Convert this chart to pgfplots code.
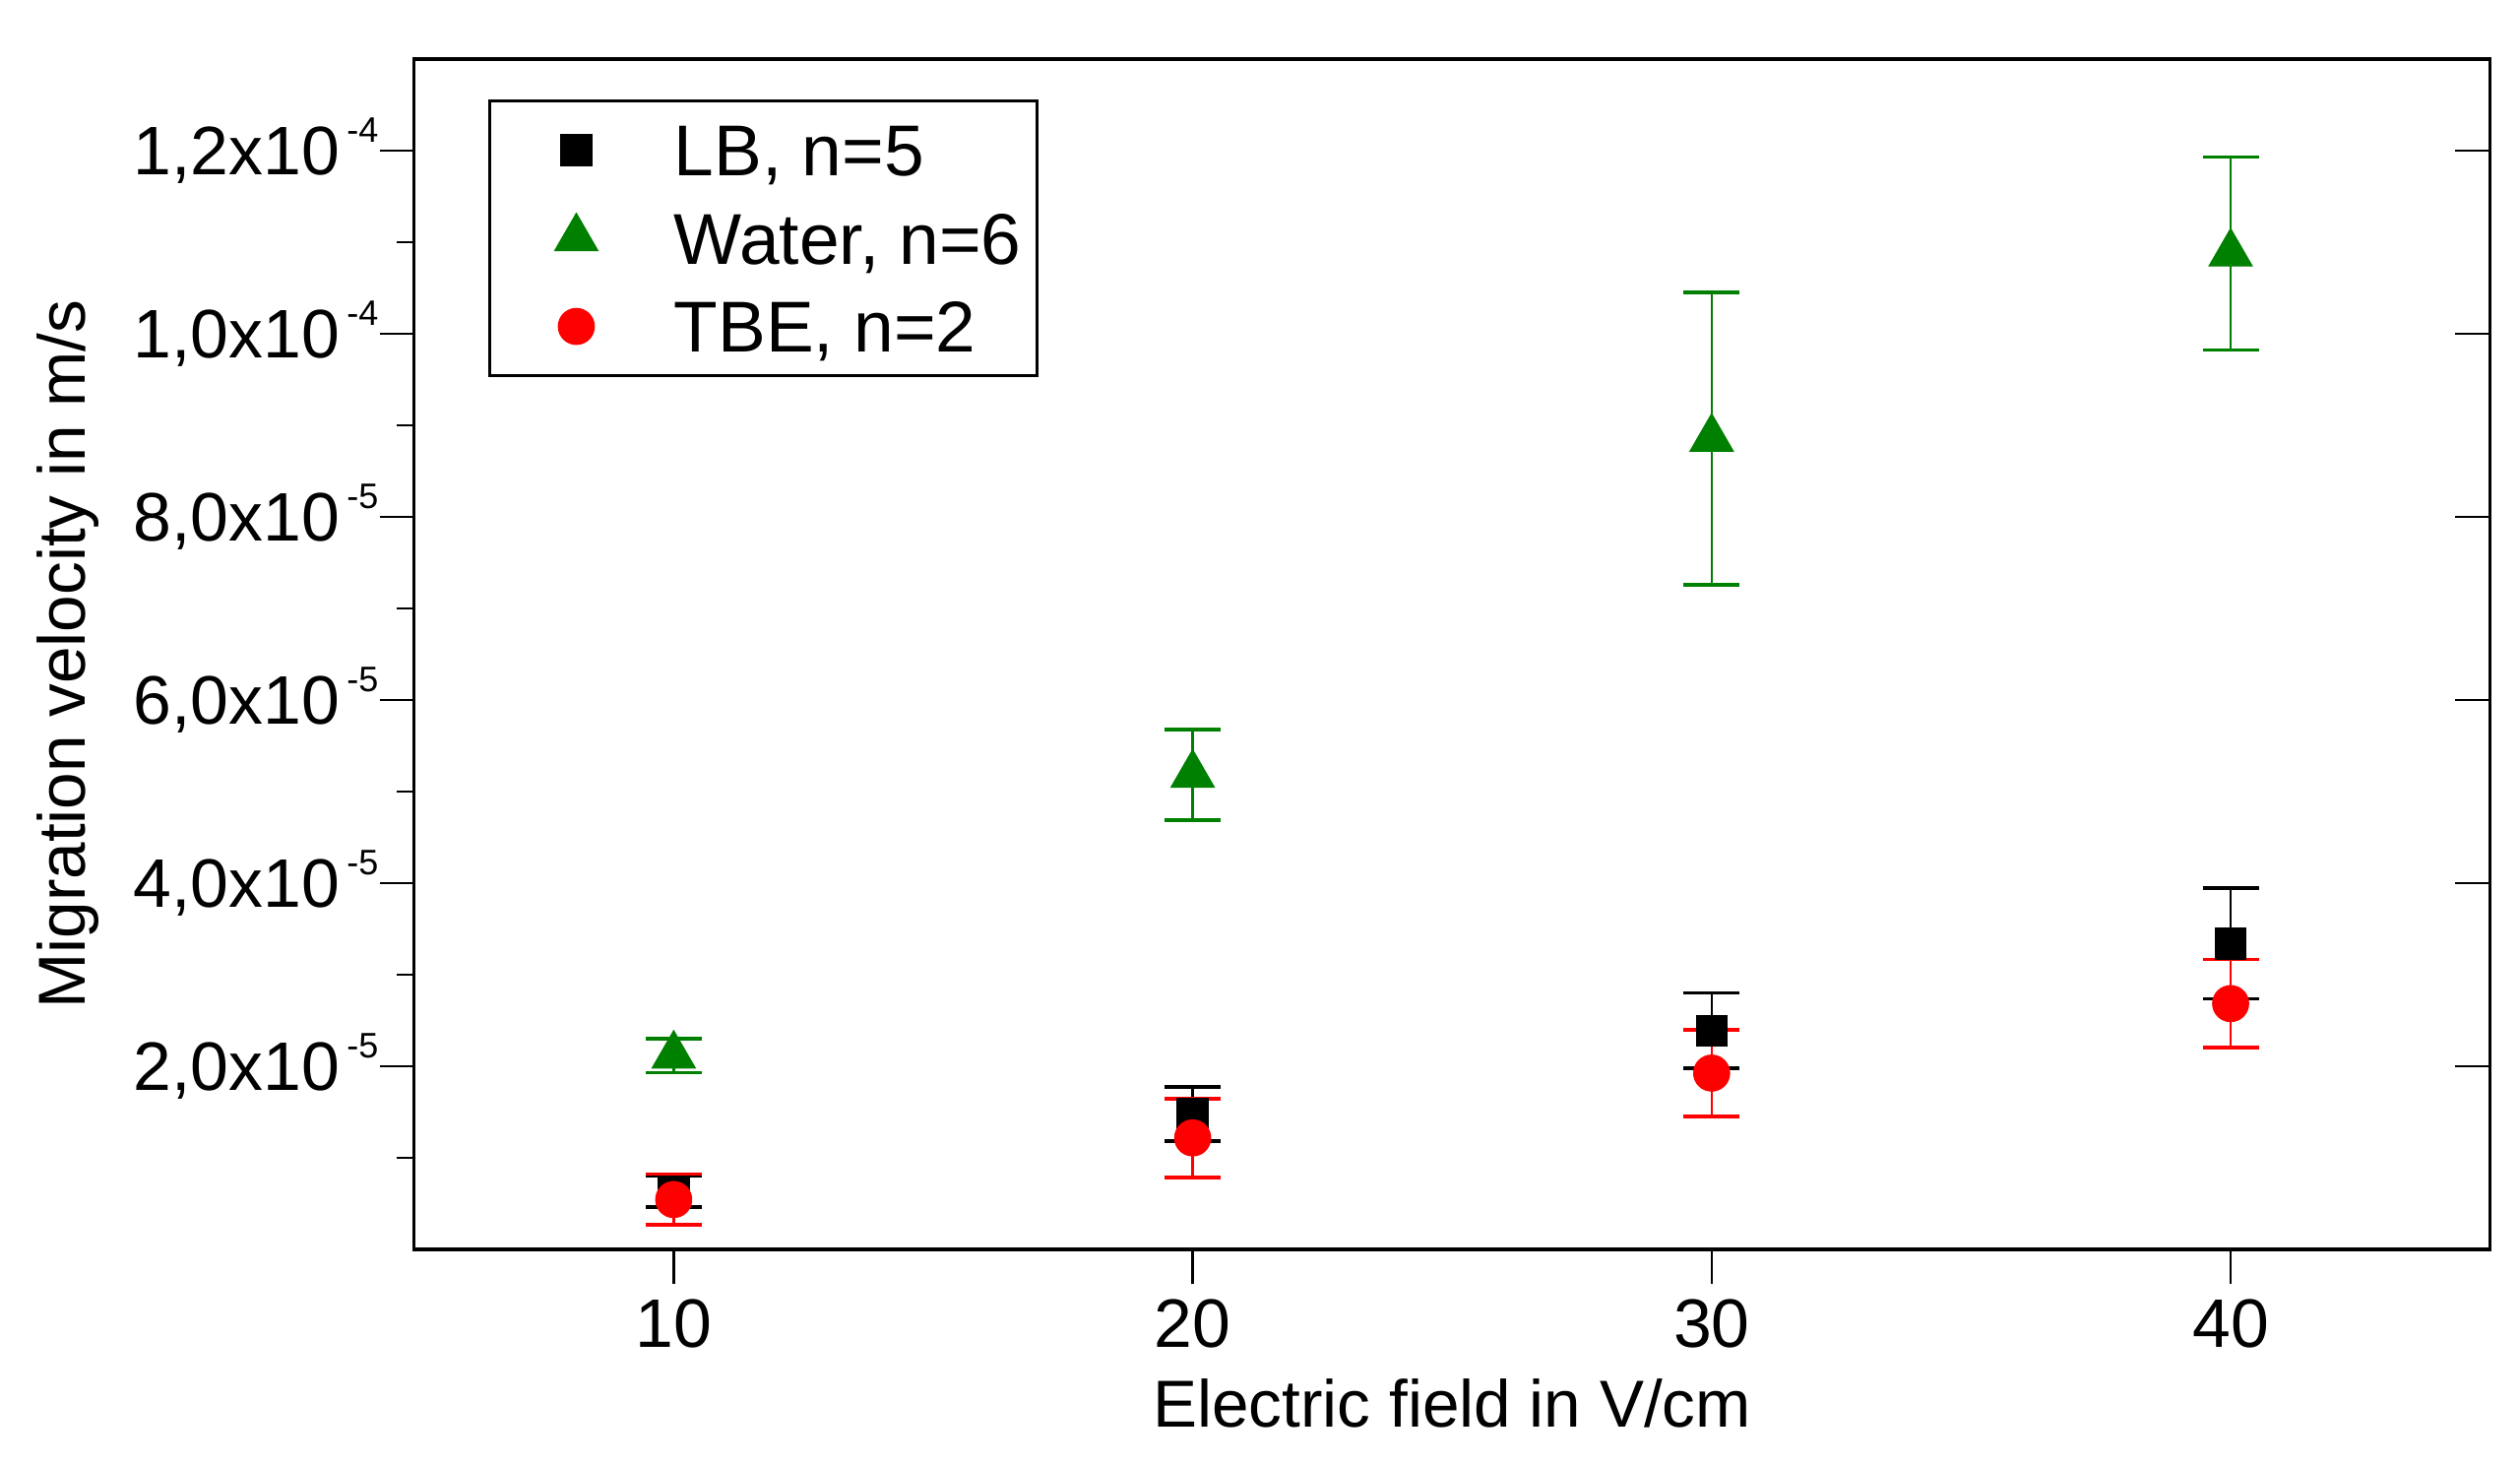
\documentclass[border=0pt]{standalone}
\usepackage{fontspec}
\setmainfont{Liberation Sans}
\usepackage{pgfplots}
\pgfplotsset{compat=1.18}
\usetikzlibrary{calc}

\definecolor{igreen}{RGB}{0,128,0}
\definecolor{ired}{RGB}{255,0,0}

% tick label like 1,2x10^-4
\newcommand{\sci}[2]{#1x10\kern1.3pt\raisebox{5.9pt}{\fontsize{6.4}{7}\selectfont #2}}

\pgfplotstableread{
x   y         e
10  0.635e-5  0.172e-5
20  1.479e-5  0.294e-5
30  2.388e-5  0.413e-5
40  3.341e-5  0.605e-5
}\lb
\pgfplotstableread{
x   y         e
10  2.116e-5  0.188e-5
20  5.184e-5  0.495e-5
30  8.854e-5  1.597e-5
40  10.876e-5 1.055e-5
}\water
\pgfplotstableread{
x   y         e
10  0.544e-5  0.278e-5
20  1.217e-5  0.431e-5
30  1.925e-5  0.474e-5
40  2.684e-5  0.483e-5
}\tbe

\pgfplotsset{
  ebar/.style={
    error bars/.cd, y dir=both, y explicit,
    error bar style={line width=0.45pt},
    error mark options={rotate=90, mark size=0.178cm, line width=0.65pt}
  },
  lgimg/.style={
    legend image code/.code={%
      \node[draw=none, fill=none, inner sep=0pt, minimum width=0.71cm, minimum height=2pt, anchor=west] at (0,0) {};
      \draw[##1, only marks] plot coordinates {(0.46cm,0cm)};}
  },
}

\begin{document}
\begin{tikzpicture}
\begin{axis}[
  name=ax,
  scale only axis,
  width=13.18cm, height=7.556cm,
  xmin=5, xmax=45, ymin=0, ymax=1.3e-4,
  axis line style={line width=0.6pt},
  xtick={10,20,30,40}, xticklabels={10,20,30,40},
  xtick pos=left, ytick pos=left,
  tick align=outside,
  major tick length=0.22cm, minor tick length=0.11cm,
  every tick/.style={black, line width=0.45pt},
  ytick={2e-5,4e-5,6e-5,8e-5,1e-4,1.2e-4},
  yticklabels={{\sci{2,0}{-5}},{\sci{4,0}{-5}},{\sci{6,0}{-5}},{\sci{8,0}{-5}},{\sci{1,0}{-4}},{\sci{1,2}{-4}}},
  minor ytick={1e-5,3e-5,5e-5,7e-5,9e-5,1.1e-4},
  scaled y ticks=false,
  ticklabel style={font=\fontsize{12.4}{14}\selectfont},
  xticklabel style={anchor=north, inner sep=0pt, yshift=-0.09cm},
  yticklabel style={anchor=base east, inner sep=0pt, yshift=-4.44pt},
  label style={font=\fontsize{12}{14}\selectfont},
  xlabel={Electric field in V/cm},
  ylabel={Migration velocity in m/s},
  xlabel style={at={(axis description cs:0.5,-0.129)}, anchor=center},
  ylabel style={at={(axis description cs:-0.167,0.5)}, anchor=center, rotate=0},
  legend cell align=left,
  legend style={
    at={(axis description cs:0.0356,0.9664)}, anchor=north west,
    draw=black, line width=0.6pt, fill=white,
    font=\fontsize{13}{15}\selectfont,
    inner xsep=0.1cm, inner ysep=0.038cm,
    row sep=0.01cm,
    nodes={inner sep=0pt, text height=0.439cm, text depth=0.111cm},
    /tikz/every odd column/.append style={column sep=0.36cm},
  },
]
\addplot[only marks, mark=square*, black,
  mark options={line width=0.2pt}, mark size=2.8pt, lgimg,
  ebar] table[x=x, y=y, y error=e] {\lb};
\addlegendentry{LB, n=5}
\addplot[only marks, mark=triangle*, igreen,
  mark options={line width=0.2pt}, mark size=4.5pt, lgimg,
  ebar] table[x=x, y=y, y error=e] {\water};
\addlegendentry{Water, n=6}
\addplot[only marks, mark=*, ired,
  mark options={line width=0.2pt}, mark size=3.25pt, lgimg,
  ebar] table[x=x, y=y, y error=e] {\tbe};
\addlegendentry{TBE, n=2}
\end{axis}
% mirrored inward ticks on the right side
\begin{axis}[
  scale only axis,
  width=13.18cm, height=7.556cm,
  xmin=5, xmax=45, ymin=0, ymax=1.3e-4,
  hide x axis,
  axis y line*=right,
  axis line style={line width=0.6pt},
  tick align=inside,
  major tick length=0.22cm,
  every tick/.style={black, line width=0.45pt},
  ytick={2e-5,4e-5,6e-5,8e-5,1e-4,1.2e-4},
  yticklabels={},
  scaled y ticks=false,
]
\end{axis}
\pgfresetboundingbox
\path[use as bounding box] ($(ax.south west)+(-2.63cm,-1.369cm)$) rectangle ($(ax.north east)+(0.19cm,0.375cm)$);
\end{tikzpicture}
\end{document}
